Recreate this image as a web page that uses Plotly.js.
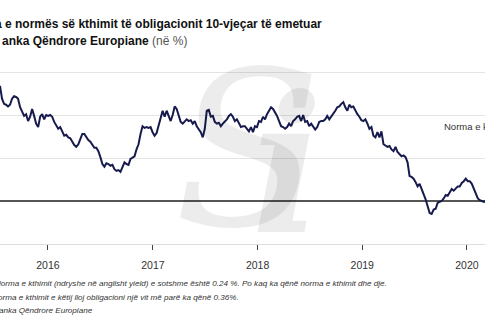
<!DOCTYPE html>
<html>
<head>
<meta charset="utf-8">
<script src="https://cdn.plot.ly/plotly-3.0.1.min.js"></script>
<style>html,body{margin:0;padding:0;background:#fff;}#chart{width:485px;height:325px;}</style>
</head>
<body>
<div id="chart"></div>
<script>
// Weekly readings of the 10-year bond yield (%), first week starting 2015-07-18
var startDate = '2015-07-18';
var yieldValues = [
  1.34,1.19,1.13,1.12,1.10,1.12,1.19,1.22,1.21,1.19,
  1.09,1.03,0.99,1.01,0.93,0.98,1.07,0.99,0.90,0.86,
  0.98,1.01,0.95,1.00,0.99,1.00,0.98,0.92,0.87,0.84,
  0.86,0.81,0.76,0.77,0.74,0.73,0.69,0.65,0.63,0.66,
  0.72,0.78,0.78,0.74,0.71,0.69,0.66,0.62,0.62,0.58,
  0.51,0.43,0.40,0.44,0.43,0.41,0.42,0.37,0.35,0.36,
  0.34,0.40,0.45,0.43,0.42,0.49,0.51,0.52,0.60,0.66,
  0.78,0.87,0.85,0.86,0.85,0.86,0.80,0.76,0.79,0.87,
  0.98,1.05,0.98,1.05,0.99,0.93,1.00,1.10,1.07,0.98,
  0.92,0.90,0.93,0.95,0.93,0.94,0.90,0.93,0.87,0.84,
  0.80,0.74,0.84,1.05,1.06,0.98,0.99,0.92,0.90,0.91,
  0.87,0.90,0.92,0.95,0.99,1.01,0.98,0.93,0.95,0.90,
  0.86,0.87,0.87,0.84,0.81,0.86,0.80,0.87,0.86,0.93,
  0.92,0.98,0.95,1.01,1.05,1.09,1.07,1.03,0.99,0.93,
  0.87,0.86,0.84,0.86,0.90,0.87,0.93,0.95,0.98,0.99,
  0.93,1.00,0.92,0.93,0.87,0.90,0.86,0.83,0.86,0.92,
  0.93,0.93,0.95,0.99,0.95,0.98,1.01,1.05,1.09,1.10,
  1.13,1.15,1.09,1.05,1.12,1.09,1.10,1.05,1.01,0.98,
  0.94,0.93,0.95,0.90,0.84,0.86,0.76,0.74,0.80,0.74,
  0.81,0.66,0.64,0.63,0.64,0.60,0.58,0.63,0.57,0.55,
  0.52,0.53,0.51,0.45,0.29,0.28,0.26,0.22,0.17,0.20,
  0.14,0.10,0.02,-0.06,-0.14,-0.15,-0.10,-0.09,-0.02,-0.01,
  0.00,0.03,0.07,0.06,0.10,0.14,0.12,0.15,0.17,0.17,
  0.21,0.23,0.26,0.23,0.23,0.20,0.14,0.07,0.03,0.01,
  0.00,-0.01,0.00
];
var tickDates = ['2016-01-01','2017-01-01','2018-01-01','2019-01-01','2020-01-01'];
var tickLabels = ['2016','2017','2018','2019','2020'];
var gridValues = [0.5, 1.0, 1.5];

var dates = [];
var t0 = new Date(startDate + 'T00:00:00Z').getTime();
for (var i = 0; i < yieldValues.length; i++) {
  dates.push(new Date(t0 + i * 7 * 86400000).toISOString().slice(0, 10));
}

var sans = "'Liberation Sans', Arial, sans-serif";
var serif = "'DejaVu Serif', serif";
var wm = 'rgba(0,0,0,0.075)';

var trace = {
  x: dates, y: yieldValues, type: 'scatter', mode: 'lines',
  line: {color: '#161a4c', width: 2},
  hoverinfo: 'skip'
};

function py(p) { return (244 - p) / 184; }
function px(p) { return p / 485; }

var layout = {
  width: 485, height: 325,
  margin: {l: 0, r: 0, t: 60, b: 81, pad: 0},
  paper_bgcolor: '#ffffff', plot_bgcolor: '#ffffff',
  showlegend: false,
  xaxis: {
    type: 'date', range: ['2015-07-18', '2020-03-04'],
    tickvals: tickDates, ticktext: tickLabels,
    ticks: 'outside', ticklen: 5, tickwidth: 1, tickcolor: '#444',
    ticklabelstandoff: 6,
    showgrid: false, zeroline: false,
    showline: true, linecolor: '#dddddd', linewidth: 1,
    tickfont: {family: sans, size: 10.5, color: '#333'},
    fixedrange: true
  },
  yaxis: {
    range: [-0.5, 1.64], tickvals: gridValues,
    showticklabels: false, ticks: '',
    showgrid: true, gridcolor: '#e4e4e4', gridwidth: 1,
    zeroline: true, zerolinecolor: '#555555', zerolinewidth: 1.4,
    showline: false, fixedrange: true
  },
  annotations: [
    {xref: 'paper', yref: 'paper', x: px(248), y: py(150), xanchor: 'center', yanchor: 'middle', showarrow: false,
     text: '<i>S</i>', font: {family: serif, size: 215, color: wm}},
    {xref: 'paper', yref: 'paper', x: px(287), y: py(165), xanchor: 'center', yanchor: 'middle', showarrow: false,
     text: '<b><i>i</i></b>', font: {family: serif, size: 190, color: wm}},
    {xref: 'paper', yref: 'paper', x: px(-7), y: py(24), xanchor: 'left', yanchor: 'middle', showarrow: false,
     text: '<b>a e normës së kthimit të obligacionit 10-vjeçar të emetuar</b>',
     font: {family: sans, size: 12, color: '#111'}},
    {xref: 'paper', yref: 'paper', x: px(0), y: py(41), xanchor: 'left', yanchor: 'middle', showarrow: false,
     text: '<b>anka Qëndrore Europiane</b> <span style="color:#555;font-weight:normal">(në %)</span>',
     font: {family: sans, size: 12, color: '#111'}},
    {xref: 'paper', yref: 'paper', x: px(442), y: py(127), xanchor: 'left', yanchor: 'middle', showarrow: false,
     text: 'Norma e k',
     font: {family: sans, size: 9.5, color: '#333'}},
    {xref: 'paper', yref: 'paper', x: px(-7.5), y: py(283), xanchor: 'left', yanchor: 'middle', showarrow: false,
     text: '<i>Norma e kthimit (ndryshe në anglisht yield) e sotshme është 0.24 %. Po kaq ka qënë norma e kthimit dhe dje.</i>',
     font: {family: sans, size: 8.1, color: '#333'}},
    {xref: 'paper', yref: 'paper', x: px(-4), y: py(297), xanchor: 'left', yanchor: 'middle', showarrow: false,
     text: '<i>orma e kthimit e këtij lloj obligacioni një vit më parë ka qënë 0.36%.</i>',
     font: {family: sans, size: 8.1, color: '#333'}},
    {xref: 'paper', yref: 'paper', x: px(-3), y: py(310), xanchor: 'left', yanchor: 'middle', showarrow: false,
     text: '<i>anka Qëndrore Europiane</i>',
     font: {family: sans, size: 8.1, color: '#333'}}
  ]
};

Plotly.newPlot('chart', [trace], layout, {displayModeBar: false, staticPlot: true});
</script>
</body>
</html>
